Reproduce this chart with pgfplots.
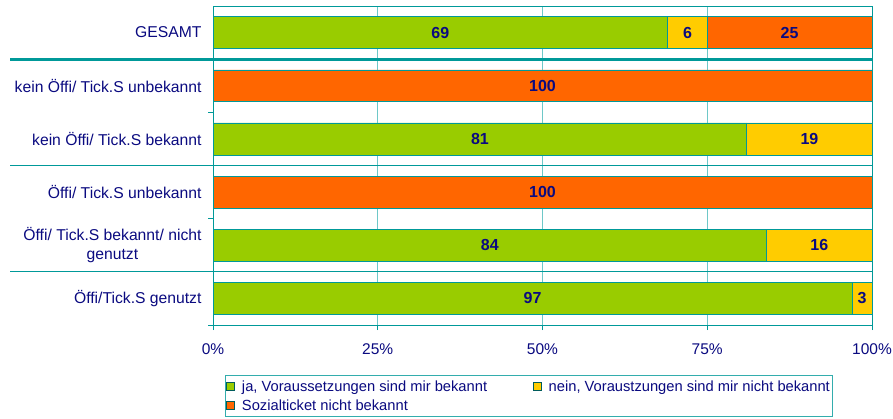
\documentclass[border=0pt]{standalone}
\usepackage{pgfplots}
\usepackage{pgfplotstable}
\pgfplotsset{compat=1.18}
\usepackage{fontspec}
\setmainfont{Liberation Sans}
\definecolor{cgreen}{RGB}{153,204,0}
\definecolor{cyellow}{RGB}{255,204,0}
\definecolor{corange}{RGB}{255,102,0}
\definecolor{cteal}{RGB}{0,153,153}
\definecolor{cgrid}{RGB}{110,200,200}
\definecolor{cnavy}{RGB}{10,10,128}

\pgfplotstableread{
y ja nein nicht
0 69 6 25
1 0 0 100
2 81 19 0
3 0 0 100
4 84 16 0
5 97 3 0
}\datatable

\pgfplotstableread{
x y label
34.5 0 69
72 0 6
87.5 0 25
50 1 100
40.5 2 81
90.5 2 19
50 3 100
42 4 84
92 4 16
48.5 5 97
98.5 5 3
}\labeltable

\begin{document}
\begin{tikzpicture}[font=\fontsize{15.7}{18}\selectfont]
\path[use as bounding box] (0,0) rectangle (893pt,418pt);
\begin{axis}[
  at={(213pt,93pt)}, anchor=south west,
  scale only axis, width=659pt, height=319pt,
  xbar stacked, bar width=0.6,
  xmin=0, xmax=100, ymin=-0.5, ymax=5.5, y dir=reverse,
  clip=false,
  axis line style={cteal, line width=1pt},
  xtick={0,25,50,75,100},
  xticklabels={0\%,25\%,50\%,75\%,100\%},
  xtick pos=bottom,
  xmajorgrids, grid style={cgrid, line width=0.8pt},
  tick align=outside, major tick length=5pt,
  xtick style={cteal, line width=0.8pt},
  ytick={0,1,2,3,4,5},
  yticklabels={GESAMT,kein Öffi/ Tick.S unbekannt,kein Öffi/ Tick.S bekannt,Öffi/ Tick.S unbekannt,{Öffi/ Tick.S bekannt/ nicht\\genutzt},Öffi/Tick.S genutzt},
  ytick style={draw=none},
  yticklabel style={align=center, text=cnavy, font=\fontsize{15.7}{18.5}\selectfont, xshift=-3pt},
  xticklabel style={text=cnavy, font=\fontsize{15.5}{18}\selectfont, yshift=-10pt},
  legend columns=2,
  legend style={at={(0.0182,-0.1567)}, anchor=north west, draw=cteal!80, line width=0.8pt,
    font=\fontsize{14.7}{17}\selectfont, text=cnavy, inner xsep=1pt, inner ysep=3pt,
    row sep=3pt,
    /tikz/every odd column/.append style={column sep=5pt},
    /tikz/every even column/.append style={column sep=44pt}},
  legend cell align=left,
  legend image code/.code={\draw[#1, line width=0.6pt, draw=cteal!60!black] (0pt,-4pt) rectangle (8pt,4pt);},
]
\addplot[fill=cgreen, draw=cteal, line width=0.6pt] table[x=ja, y=y] \datatable;
\addplot[fill=cyellow, draw=cteal, line width=0.6pt] table[x=nein, y=y] \datatable;
\addplot[fill=corange, draw=cteal, line width=0.6pt] table[x=nicht, y=y] \datatable;
\legend{ja{,} Voraussetzungen sind mir bekannt, nein{,} Voraustzungen sind mir nicht bekannt, Sozialticket nicht bekannt}
\draw[cteal, line width=3pt] (axis cs:-30.8,0.5) -- (axis cs:100,0.5);
\draw[cteal, line width=1.2pt] (axis cs:-30.8,2.5) -- (axis cs:100,2.5);
\draw[cteal, line width=1.2pt] (axis cs:-30.8,4.5) -- (axis cs:100,4.5);
\draw[cteal, line width=0.8pt] (axis cs:0,1.5) -- ([xshift=-5pt]axis cs:0,1.5);
\draw[cteal, line width=0.8pt] (axis cs:0,3.5) -- ([xshift=-5pt]axis cs:0,3.5);
\draw[cteal, line width=0.8pt] (axis cs:0,5.5) -- ([xshift=-5pt]axis cs:0,5.5);
\end{axis}
\begin{axis}[
  at={(213pt,93pt)}, anchor=south west,
  scale only axis, width=659pt, height=319pt,
  xmin=0, xmax=100, ymin=-0.5, ymax=5.5, y dir=reverse,
  hide axis, clip=false,
]
\addplot[only marks, mark=*, mark size=0pt, mark options={draw=none, fill=none},
  nodes near coords, point meta=explicit symbolic,
  nodes near coords style={anchor=center, text=cnavy, font=\fontsize{16}{18}\selectfont\bfseries}]
  table[x=x, y=y, meta=label] \labeltable;
\end{axis}
\end{tikzpicture}
\end{document}
